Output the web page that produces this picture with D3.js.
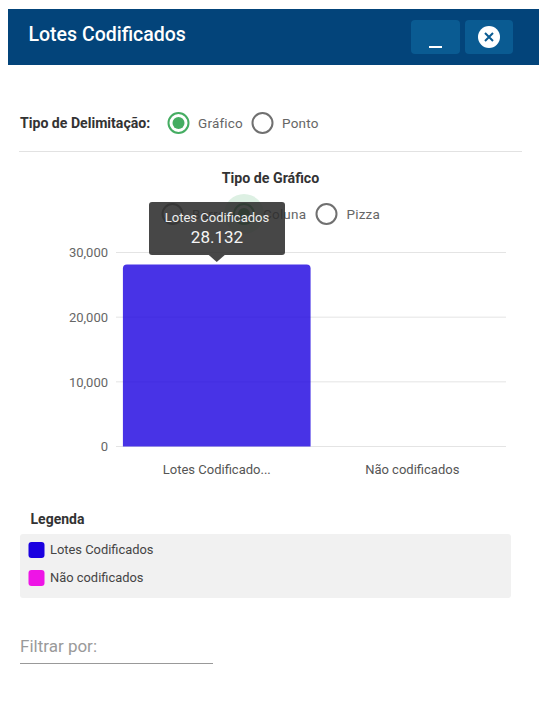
<!DOCTYPE html>
<html lang="pt">
<head>
<meta charset="utf-8">
<title>Lotes Codificados</title>
<script src="https://cdn.jsdelivr.net/npm/d3@7"></script>
<style>
  html, body { margin: 0; padding: 0; background: #fff; overflow: hidden; }
  svg { display: block; font-family: Roboto, sans-serif; }
</style>
</head>
<body>
<svg id="panel" width="539" height="704"></svg>
<script>
const categories = ["Lotes Codificados", "Não codificados"];
const categoryLabels = ["Lotes Codificado...", "Não codificados"];
const values = [28132, 0];
const seriesColors = ["#1a00e0", "#ee14e6"];
const yTicks = [0, 10000, 20000, 30000];
const delimitationOptions = [
  { label: "Gráfico", cx: 178.5, tx: 198, on: true },
  { label: "Ponto", cx: 262.5, tx: 282, on: false }
];
const chartTypeOptions = [
  { label: "Barra", cx: 172.5, tx: 192, on: false },
  { label: "Coluna", cx: 244, tx: 263, on: true },
  { label: "Pizza", cx: 326.5, tx: 346.5, on: false }
];

const svg = d3.select("#panel");

// Title bar with its two window buttons
svg.append("rect").attr("x", 8).attr("y", 9).attr("width", 531).attr("height", 56).attr("fill", "#03447a");
svg.append("text").attr("x", 28.5).attr("y", 41).attr("fill", "#fff")
  .attr("font-size", 19.5).attr("font-weight", 500).text("Lotes Codificados");
[[411, 49], [465, 48]].forEach(([x, w]) => {
  svg.append("rect").attr("x", x).attr("y", 20).attr("width", w).attr("height", 34)
    .attr("rx", 4).attr("fill", "#0a5b92");
});
svg.append("rect").attr("x", 429).attr("y", 46).attr("width", 13).attr("height", 2).attr("fill", "#fff");
svg.append("circle").attr("cx", 489).attr("cy", 37).attr("r", 11).attr("fill", "#fff");
svg.append("path").attr("d", "M485 33L493 41M493 33L485 41")
  .attr("stroke", "#0a5b92").attr("stroke-width", 2).attr("fill", "none");

function radio(group, opt, cy) {
  if (opt.on) {
    group.append("circle").attr("cx", opt.cx).attr("cy", cy).attr("r", 10)
      .attr("fill", "none").attr("stroke", "#45ad62").attr("stroke-width", 2);
    group.append("circle").attr("cx", opt.cx).attr("cy", cy).attr("r", 6).attr("fill", "#45ad62");
  } else {
    group.append("circle").attr("cx", opt.cx).attr("cy", cy).attr("r", 10)
      .attr("fill", "none").attr("stroke", "#707070").attr("stroke-width", 2);
  }
  group.append("text").attr("x", opt.tx).attr("y", cy + 4.5)
    .attr("font-size", 13.5).attr("fill", "#666").attr("letter-spacing", 0.2).text(opt.label);
}

// Delimitation selector
svg.append("text").attr("x", 20).attr("y", 128).attr("font-size", 14.1)
  .attr("font-weight", 700).attr("fill", "#333").text("Tipo de Delimitação:");
delimitationOptions.forEach(o => radio(svg, o, 123));
svg.append("rect").attr("x", 19).attr("y", 151).attr("width", 503).attr("height", 1).attr("fill", "#e2e2e2");

// Chart type selector, with the focus halo behind the active option
svg.append("text").attr("x", 270.5).attr("y", 183).attr("text-anchor", "middle").attr("font-size", 14.2)
  .attr("font-weight", 700).attr("fill", "#333").text("Tipo de Gráfico");
svg.append("circle").attr("cx", 244).attr("cy", 214).attr("r", 20).attr("fill", "#45ad62").attr("opacity", 0.18);
chartTypeOptions.forEach(o => radio(svg, o, 214));

// Column chart
const x = d3.scaleBand().domain(categories).range([119, 510]).paddingInner(0.04).paddingOuter(0.02);
const y = d3.scaleLinear().domain([0, 30000]).range([446.5, 252.5]);

const grid = svg.append("g");
grid.selectAll("line").data(yTicks).join("line")
  .attr("x1", 116).attr("x2", 506)
  .attr("y1", d => y(d)).attr("y2", d => y(d))
  .attr("stroke", "#e4e4e4").attr("stroke-width", 1);

const yAxis = svg.append("g").attr("transform", "translate(116,0)")
  .call(d3.axisLeft(y).tickValues(yTicks).tickSize(0).tickPadding(8).tickFormat(d3.format(",")));
yAxis.select(".domain").remove();
yAxis.selectAll("text").attr("font-size", 13).attr("font-family", "Roboto, sans-serif").attr("fill", "#666");

const xAxis = svg.append("g").attr("transform", "translate(0,446.5)")
  .call(d3.axisBottom(x).tickSize(0).tickPadding(18).tickFormat((d, i) => categoryLabels[i]));
xAxis.select(".domain").remove();
xAxis.selectAll("text").attr("font-size", 13).attr("font-family", "Roboto, sans-serif").attr("fill", "#555");

svg.append("g").selectAll("path").data(categories.map((c, i) => ({ c, v: values[i], color: seriesColors[i] })))
  .join("path")
  .attr("d", d => {
    const x0 = x(d.c), w = x.bandwidth(), y0 = y(d.v), y1 = y(0), r = Math.min(4, y1 - y0);
    return `M${x0},${y1}V${y0 + r}Q${x0},${y0} ${x0 + r},${y0}H${x0 + w - r}Q${x0 + w},${y0} ${x0 + w},${y0 + r}V${y1}Z`;
  })
  .attr("fill", d => d.color).attr("fill-opacity", 0.8);

// Tooltip over the hovered column
const tipX = x(categories[0]) + x.bandwidth() / 2;
const tip = svg.append("g");
tip.append("rect").attr("x", 149).attr("y", 202).attr("width", 136).attr("height", 53).attr("rx", 3)
  .attr("fill", "#2e2e2e").attr("fill-opacity", 0.88);
tip.append("path").attr("d", `M${tipX - 8},255L${tipX},262L${tipX + 8},255Z`).attr("fill", "#2e2e2e").attr("fill-opacity", 0.88);
tip.append("text").attr("x", 217).attr("y", 221.5).attr("text-anchor", "middle")
  .attr("font-size", 13).attr("fill", "#eee").text(categories[0]);
tip.append("text").attr("x", 217).attr("y", 242.5).attr("text-anchor", "middle")
  .attr("font-size", 17).attr("fill", "#f5f5f5").text(d3.format(",")(values[0]).replace(",", "."));

// Legend
svg.append("text").attr("x", 30.5).attr("y", 524).attr("font-size", 14)
  .attr("font-weight", 700).attr("fill", "#333").text("Legenda");
svg.append("rect").attr("x", 20).attr("y", 534).attr("width", 491).attr("height", 64).attr("rx", 3).attr("fill", "#f1f1f1");
const legend = svg.append("g").selectAll("g").data(categories).join("g")
  .attr("transform", (d, i) => `translate(0,${550 + i * 28})`);
legend.append("rect").attr("x", 28.5).attr("y", -8).attr("width", 16).attr("height", 16).attr("rx", 3)
  .attr("fill", (d, i) => seriesColors[i]);
legend.append("text").attr("x", 50).attr("y", 4.3).attr("font-size", 12.9).attr("fill", "#444").text(d => d);

// Filter field
svg.append("text").attr("x", 20).attr("y", 652).attr("font-size", 17).attr("fill", "#9a9a9a").text("Filtrar por:");
svg.append("rect").attr("x", 20).attr("y", 663).attr("width", 193).attr("height", 1).attr("fill", "#999");
</script>
</body>
</html>
